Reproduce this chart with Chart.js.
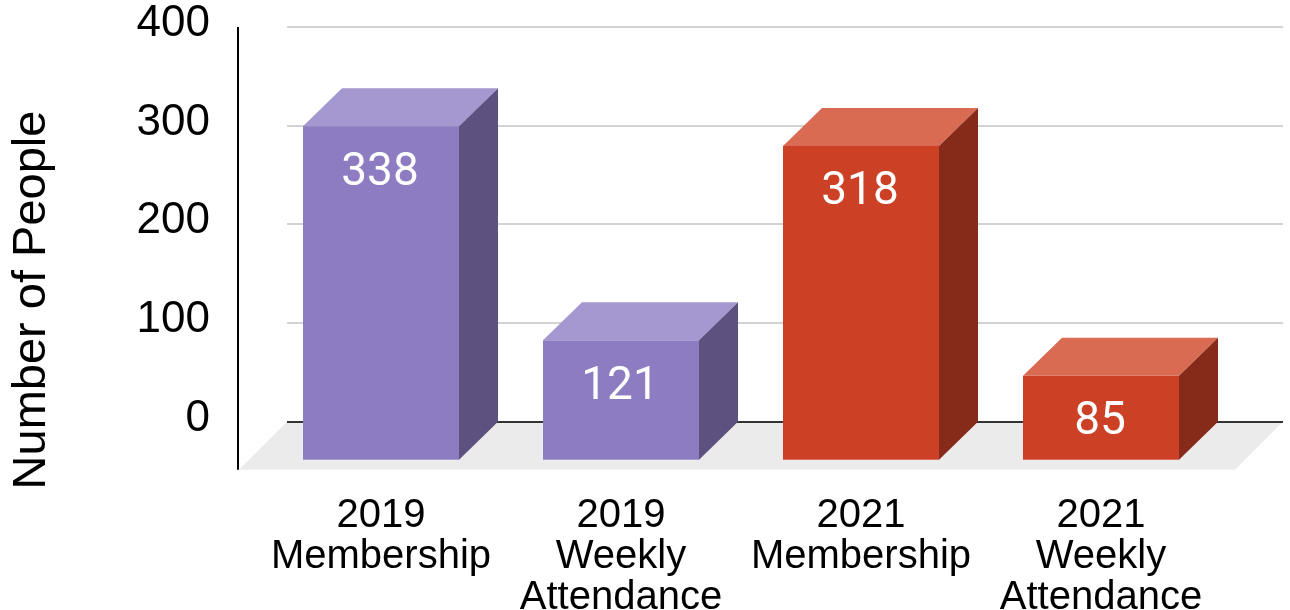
<!DOCTYPE html>
<html lang="en">
<head>
  <meta charset="UTF-8" />
  <title>Number of People</title>
  <script src="https://cdn.jsdelivr.net/npm/chart.js"></script>
  <style>
    html, body { margin: 0; padding: 0; background: #fff; }
  </style>
</head>
<body>
  <canvas id="peopleChart" width="1290" height="610"></canvas>

  <script>
    // data
    const categories = [
      ['2019', 'Membership'],
      ['2019', 'Weekly', 'Attendance'],
      ['2021', 'Membership'],
      ['2021', 'Weekly', 'Attendance']
    ];
    const people = [338, 121, 318, 85];
    const yTicks = [0, 100, 200, 300, 400];
    const yTitle = 'Number of People';

    // box colours: front / top / right side
    const purple = { front: '#8d7cc2', top: '#a597cf', side: '#5d517f' };
    const red = { front: '#cc4125', top: '#d96b53', side: '#862a1a' };
    const boxColors = [purple, purple, red, red];

    const DX = 39, DY = 38;   // depth offset of each box
    const FLOOR = 48;         // depth of the grey floor

    function poly(ctx, pts, color) {
      ctx.fillStyle = color;
      ctx.beginPath();
      ctx.moveTo(pts[0][0], pts[0][1]);
      for (let i = 1; i < pts.length; i++) ctx.lineTo(pts[i][0], pts[i][1]);
      ctx.closePath();
      ctx.fill();
    }

    const box3d = {
      id: 'box3d',
      beforeDatasetsDraw(chart) {
        const { ctx, chartArea, scales: { y } } = chart;
        const y0 = y.getPixelForValue(0);
        const wallL = chartArea.left + 26, wallR = chartArea.right + 62;

        ctx.save();
        // floor
        poly(ctx, [[wallL, y0], [wallR, y0], [wallR - FLOOR, y0 + FLOOR], [wallL - FLOOR, y0 + FLOOR]], '#ebebeb');

        // gridlines on the back wall
        yTicks.forEach(v => {
          const py = Math.round(y.getPixelForValue(v));
          ctx.strokeStyle = v === 0 ? '#333333' : '#d3d3d3';
          ctx.lineWidth = 2;
          ctx.beginPath();
          ctx.moveTo(wallL, py);
          ctx.lineTo(wallR, py);
          ctx.stroke();
        });

        // y axis line
        const ax = chartArea.left - 23;
        ctx.strokeStyle = '#000';
        ctx.lineWidth = 2;
        ctx.beginPath();
        ctx.moveTo(ax, y.getPixelForValue(yTicks[yTicks.length - 1]));
        ctx.lineTo(ax, y0 + FLOOR);
        ctx.stroke();
        ctx.restore();
      },
      afterDatasetsDraw(chart) {
        const { ctx } = chart;
        const meta = chart.getDatasetMeta(0);
        ctx.save();
        meta.data.forEach((bar, i) => {
          const { x, y, base, width } = bar.getProps(['x', 'y', 'base', 'width'], true);
          const l = x - width / 2, r = x + width / 2;
          const ft = y + DY, fb = base + DY;
          const c = boxColors[i];
          poly(ctx, [[l, ft], [r, ft], [r + DX, y], [l + DX, y]], c.top);
          poly(ctx, [[r, ft], [r + DX, y], [r + DX, base], [r, fb]], c.side);
          ctx.fillStyle = c.front;
          ctx.fillRect(l, ft, width, fb - ft);

          ctx.fillStyle = '#fff';
          ctx.font = '46px Roboto';
          ctx.textAlign = 'center';
          ctx.textBaseline = 'middle';
          ctx.fillText(String(people[i]), x - 1, ft + 47);
        });
        ctx.restore();
      },
      afterDraw(chart) {
        const { ctx } = chart;
        ctx.save();
        ctx.translate(32, 300);
        ctx.rotate(-Math.PI / 2);
        ctx.fillStyle = '#000';
        ctx.font = '47px "Liberation Sans", Arial, sans-serif';
        ctx.textAlign = 'center';
        ctx.textBaseline = 'middle';
        ctx.fillText(yTitle, 0, 0);
        ctx.restore();
      }
    };

    new Chart(document.getElementById('peopleChart'), {
      type: 'bar',
      data: {
        labels: categories,
        datasets: [{
          label: yTitle,
          data: people,
          backgroundColor: 'rgba(0,0,0,0)',
          borderWidth: 0,
          categoryPercentage: 1,
          barPercentage: 0.65
        }]
      },
      options: {
        responsive: false,
        animation: false,
        devicePixelRatio: 1,
        layout: { padding: { top: 27, right: 69, left: 0, bottom: 0 } },
        plugins: {
          legend: { display: false },
          tooltip: { enabled: false }
        },
        scales: {
          x: {
            grid: { display: false },
            border: { display: false },
            ticks: {
              color: '#000',
              font: { family: '"Liberation Sans", Arial, sans-serif', size: 40, lineHeight: 1.025 },
              padding: 66,
              maxRotation: 0,
              autoSkip: false
            },
            afterFit(scale) { scale.height = 188.3; }
          },
          y: {
            min: 0,
            max: 400,
            grid: { display: false },
            border: { display: false },
            ticks: {
              stepSize: 100,
              color: '#000',
              font: { family: '"Liberation Sans", Arial, sans-serif', size: 44 },
              padding: 43,
              labelOffset: -3
            },
            afterFit(scale) {
              scale.width = 261;
              scale.paddingTop = 0;
              scale.paddingBottom = 0;
            }
          }
        }
      },
      plugins: [box3d]
    });
  </script>
</body>
</html>
